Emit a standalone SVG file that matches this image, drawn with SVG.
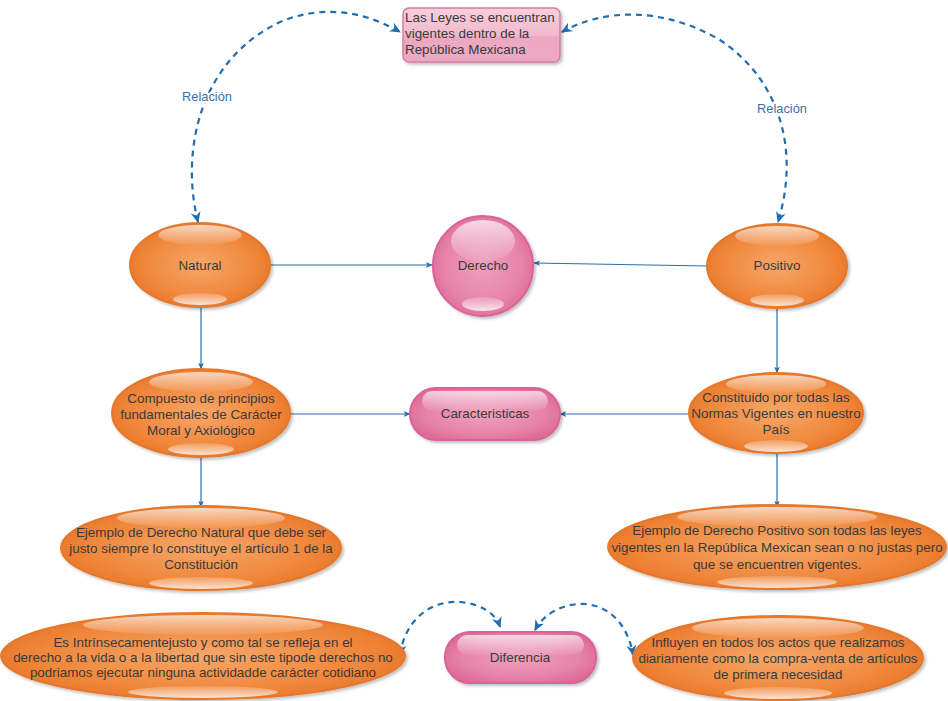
<svg xmlns="http://www.w3.org/2000/svg" width="948" height="701" viewBox="0 0 948 701">
<defs>
<radialGradient id="gO" cx="50%" cy="50%" r="55%">
<stop offset="0" stop-color="#f6a76a"/>
<stop offset="0.7" stop-color="#f0883c"/>
<stop offset="1" stop-color="#e8762a"/>
</radialGradient>
<radialGradient id="gP" cx="50%" cy="50%" r="55%">
<stop offset="0" stop-color="#eea0bd"/>
<stop offset="0.7" stop-color="#e784a8"/>
<stop offset="1" stop-color="#de6c97"/>
</radialGradient>
<linearGradient id="gBox" x1="0" y1="0" x2="0" y2="1">
<stop offset="0" stop-color="#f7cfdd"/>
<stop offset="0.5" stop-color="#f2b9cd"/>
<stop offset="0.55" stop-color="#eda8c1"/>
<stop offset="1" stop-color="#ecaac2"/>
</linearGradient>
<linearGradient id="gHi" x1="0" y1="0" x2="0" y2="1">
<stop offset="0" stop-color="#ffffff" stop-opacity="0.7"/>
<stop offset="1" stop-color="#ffffff" stop-opacity="0.05"/>
</linearGradient>
<linearGradient id="gLo" x1="0" y1="0" x2="0" y2="1">
<stop offset="0" stop-color="#ffffff" stop-opacity="0.15"/>
<stop offset="1" stop-color="#ffffff" stop-opacity="0.8"/>
</linearGradient>
<filter id="sh" x="-10%" y="-10%" width="125%" height="130%">
<feDropShadow dx="2" dy="2" stdDeviation="1.5" flood-color="#000" flood-opacity="0.25"/>
</filter>
<marker id="aS" viewBox="0 0 10 10" refX="9" refY="5" markerWidth="7" markerHeight="7" orient="auto-start-reverse" markerUnits="userSpaceOnUse">
<path d="M0,1 L10,5 L0,9 L2.5,5 Z" fill="#2e6ea6"/>
</marker>
<marker id="aD" viewBox="0 0 10 10" refX="9" refY="5" markerWidth="11" markerHeight="11" orient="auto-start-reverse" markerUnits="userSpaceOnUse">
<path d="M0,0.5 L10,5 L0,9.5 L3,5 Z" fill="#1f6db2"/>
</marker>
</defs>
<style>
.o{fill:url(#gO);stroke:#e5772c;stroke-width:2;filter:url(#sh)}
.p{fill:url(#gP);stroke:#d9629a;stroke-width:2;filter:url(#sh)}
.hi{fill:url(#gHi)}
.lo{fill:url(#gLo)}
text{font-family:"Liberation Sans",Arial,sans-serif;font-size:13.4px;fill:#3a3a3a}
.c{text-anchor:middle}
.rel{fill:#3a6ea8;font-size:12.8px;stroke:#fff;stroke-width:4;paint-order:stroke;text-anchor:middle}
.ln{fill:none;stroke:#2e6ea6;stroke-width:1.2;marker-end:url(#aS)}
.ds{fill:none;stroke:#1f6db2;stroke-width:2.2;stroke-dasharray:6 5;marker-start:url(#aD);marker-end:url(#aD)}
</style>

<g id="connectors">
<path class="ln" d="M270,265 L432,265"/>
<path class="ln" d="M707,266 L534,263"/>
<path class="ln" d="M201,307 L201,369"/>
<path class="ln" d="M777,308 L777,373"/>
<path class="ln" d="M290,414 L410,414"/>
<path class="ln" d="M689,414 L560,414"/>
<path class="ln" d="M201,457 L201,507"/>
<path class="ln" d="M777,453 L777,507"/>
<path class="ds" d="M198,222 C180,150 200,60 280,22 C320,5 362,10 400,32"/>
<path class="ds" d="M562,32 C600,10 660,5 720,40 C780,80 800,150 778,222"/>
<path class="ds" d="M400,655 C405,620 430,600 460,602 C480,604 495,612 500,627"/>
<path class="ds" d="M535,630 C545,612 565,603 585,604 C610,606 628,625 633,655"/>
<text class="rel" x="207" y="101">Relación</text>
<text class="rel" x="782" y="113">Relación</text>
</g>

<g id="leyes">
<rect x="403" y="8" width="157" height="54" rx="6" fill="url(#gBox)" stroke="#d57ca0" stroke-width="1.5" filter="url(#sh)"/>
<text x="405" y="22">Las Leyes se encuentran</text>
<text x="405" y="38">vigentes dentro de la</text>
<text x="405" y="54">República Mexicana</text>
</g>

<g id="natural">
<ellipse class="o" cx="200" cy="265" rx="70" ry="42"/>
<ellipse class="hi" cx="200" cy="235" rx="42" ry="10"/>
<ellipse class="lo" cx="200" cy="299" rx="27" ry="6"/>
<text class="c" x="200" y="270">Natural</text>
</g>

<g id="derecho">
<circle class="p" cx="483" cy="266" r="50"/>
<ellipse class="hi" cx="483" cy="241" rx="32" ry="21"/>
<ellipse class="lo" cx="483" cy="304" rx="21" ry="7"/>
<text class="c" x="483" y="270">Derecho</text>
</g>

<g id="positivo">
<ellipse class="o" cx="777" cy="266" rx="70" ry="42"/>
<ellipse class="hi" cx="777" cy="236" rx="42" ry="10"/>
<ellipse class="lo" cx="777" cy="300" rx="27" ry="6"/>
<text class="c" x="777" y="270">Positivo</text>
</g>

<g id="compuesto">
<ellipse class="o" cx="201" cy="413" rx="89" ry="44"/>
<ellipse class="hi" cx="201" cy="382" rx="52" ry="10"/>
<ellipse class="lo" cx="201" cy="449" rx="33" ry="6"/>
<text class="c" x="201" y="403">Compuesto de principios</text>
<text class="c" x="201" y="419">fundamentales de Carácter</text>
<text class="c" x="201" y="435">Moral y Axiológico</text>
</g>

<g id="caracteristicas">
<rect class="p" x="410" y="388" width="150" height="52" rx="26"/>
<rect class="hi" x="422" y="391" width="126" height="20" rx="10"/>
<text class="c" x="485" y="418">Caracteristicas</text>
</g>

<g id="constituido">
<ellipse class="o" cx="776" cy="413" rx="87" ry="40"/>
<ellipse class="hi" cx="776" cy="384" rx="50" ry="9"/>
<ellipse class="lo" cx="776" cy="446" rx="32" ry="6"/>
<text class="c" x="776" y="402">Constituido por todas las</text>
<text class="c" x="776" y="418">Normas Vigentes en nuestro</text>
<text class="c" x="776" y="434">País</text>
</g>

<g id="ejemploNatural">
<ellipse class="o" cx="201" cy="548" rx="140" ry="42"/>
<ellipse class="hi" cx="201" cy="518" rx="84" ry="10"/>
<ellipse class="lo" cx="201" cy="583" rx="52" ry="6"/>
<text class="c" x="201" y="537">Ejemplo de Derecho Natural que debe ser</text>
<text class="c" x="201" y="553">justo siempre lo constituye el artículo 1 de la</text>
<text class="c" x="201" y="569">Constitución</text>
</g>

<g id="ejemploPositivo">
<ellipse class="o" cx="777" cy="547" rx="169" ry="42"/>
<ellipse class="hi" cx="777" cy="517" rx="100" ry="10"/>
<ellipse class="lo" cx="777" cy="582" rx="60" ry="6"/>
<text class="c" x="777" y="535">Ejemplo de Derecho Positivo son todas las leyes</text>
<text class="c" x="777" y="552">vigentes en la República Mexican sean o no justas pero</text>
<text class="c" x="777" y="569">que se encuentren vigentes.</text>
</g>

<g id="intrinseco">
<ellipse class="o" cx="203" cy="656" rx="202" ry="43"/>
<ellipse class="hi" cx="203" cy="625" rx="120" ry="10"/>
<ellipse class="lo" cx="203" cy="692" rx="75" ry="6"/>
<text class="c" x="203" y="647">Es Intrínsecamentejusto y como tal se refleja en el</text>
<text class="c" x="203" y="662">derecho a la vida o a la libertad que sin este tipode derechos no</text>
<text class="c" x="203" y="677">podriamos ejecutar ninguna actividadde carácter cotidiano</text>
</g>

<g id="diferencia">
<rect class="p" x="445" y="632" width="151" height="51" rx="25"/>
<rect class="hi" x="457" y="635" width="127" height="20" rx="10"/>
<text class="c" x="520" y="662">Diferencia</text>
</g>

<g id="influyen">
<ellipse class="o" cx="778" cy="658" rx="145" ry="42"/>
<ellipse class="hi" cx="778" cy="628" rx="86" ry="10"/>
<ellipse class="lo" cx="778" cy="693" rx="54" ry="6"/>
<text class="c" x="778" y="647">Influyen en todos los actos que realizamos</text>
<text class="c" x="778" y="663">diariamente como la compra-venta de artículos</text>
<text class="c" x="778" y="679">de primera necesidad</text>
</g>
</svg>
